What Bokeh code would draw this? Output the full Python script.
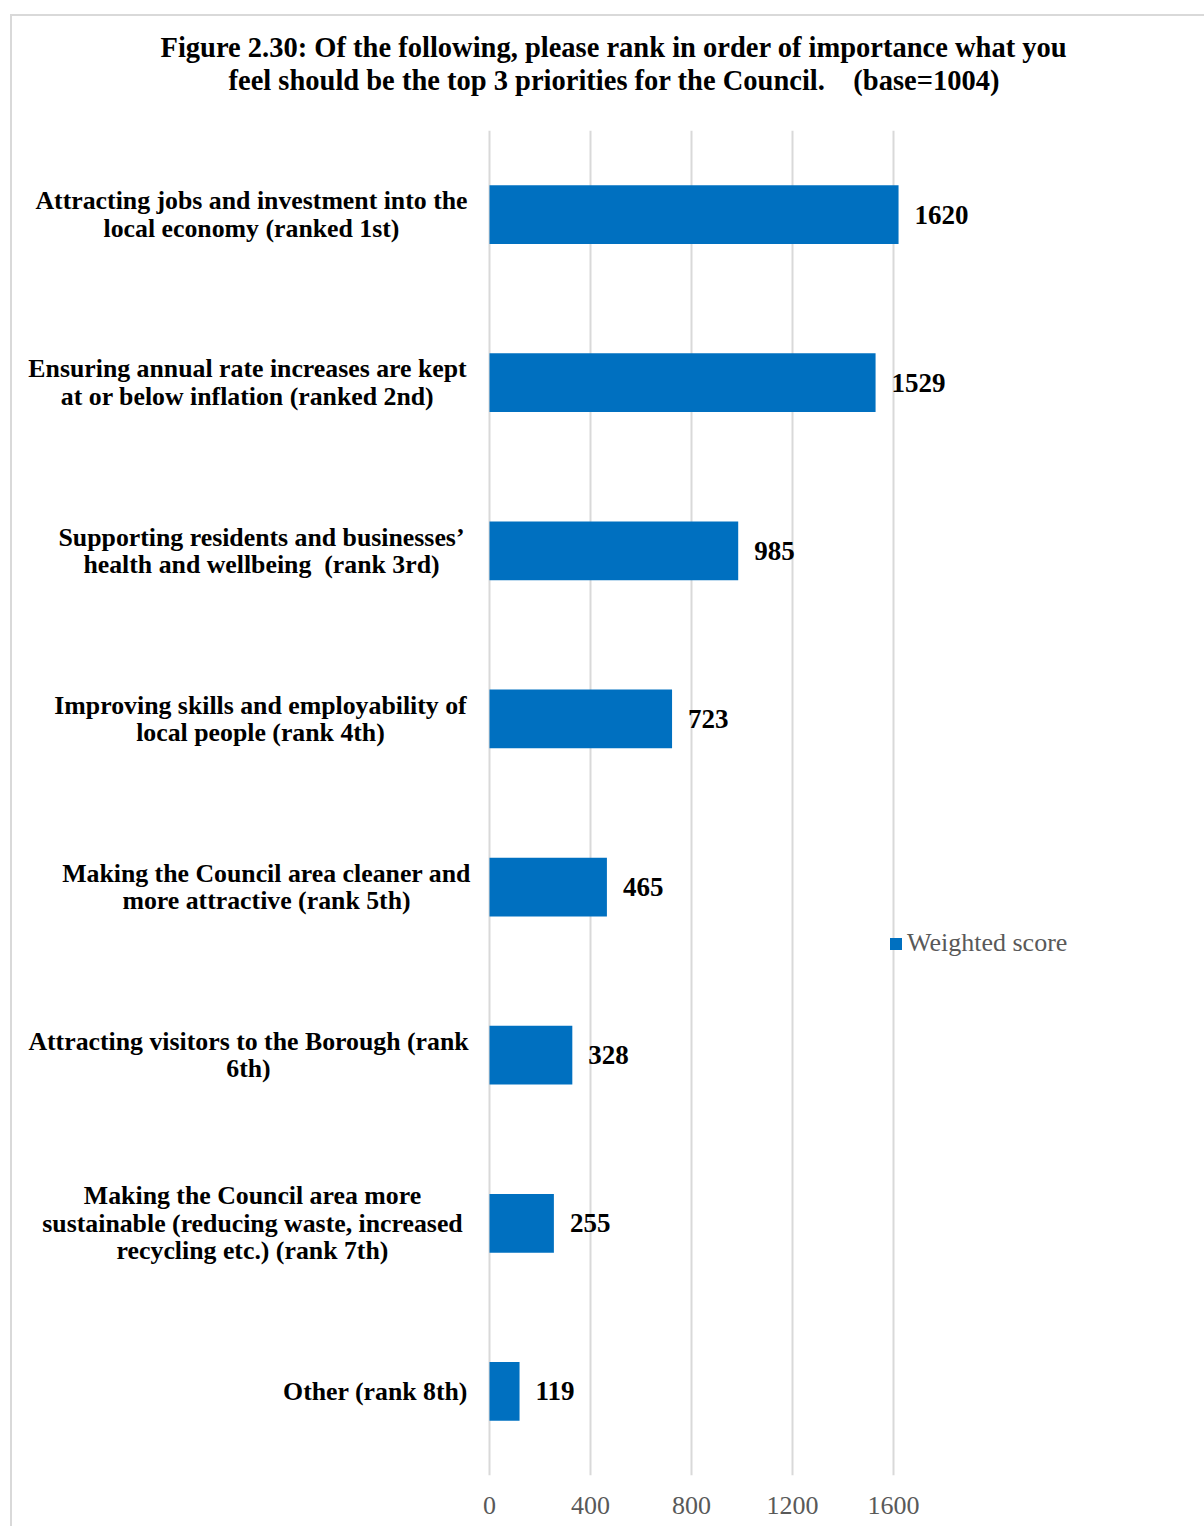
from bokeh.plotting import figure
from bokeh.models import (ColumnDataSource, LabelSet, Legend, LegendItem,
                          FactorRange, Range1d, Title)
from bokeh.embed import file_html
from bokeh.resources import INLINE

# ---- data ----
categories = [
    "Attracting jobs and investment into the\nlocal economy (ranked 1st)",
    "Ensuring annual rate increases are kept\nat or below inflation (ranked 2nd)",
    "Supporting residents and businesses\u2019\nhealth and wellbeing \u00a0(rank 3rd)",
    "Improving skills and employability of\nlocal people (rank 4th)",
    "Making the Council area cleaner and\nmore attractive (rank 5th)",
    "Attracting visitors to the Borough (rank\n6th)",
    "Making the Council area more\nsustainable (reducing waste, increased\nrecycling etc.) (rank 7th)",
    "Other (rank 8th)",
]
values = [1620, 1529, 985, 723, 465, 328, 255, 119]
x_ticks = [0, 400, 800, 1200, 1600]
series_name = "Weighted score"
title_lines = ["Figure 2.30: Of the following, please rank in order of importance what you",
               "feel should be the top 3 priorities for the Council. \u00a0\u00a0\u00a0(base=1004)"]

# ---- layout constants (pixels) ----
ZERO_PX = 489             # canvas x of value 0
PX_PER_UNIT = 404 / 1600  # pixels per unit of score
FRAME_L, FRAME_R = 12, 1180
label_center_px = [251, 247, 261, 260, 266, 248, 252, 375]  # centre of each label block
title_left_px = [160, 228]  # left edge of each title line

SERIF = "Liberation Serif"
BLUE = "#0070C0"

src = ColumnDataSource(dict(cat=categories, val=values, txt=[str(v) for v in values],
                            loff=[c - ZERO_PX for c in label_center_px]))

x_start = -(ZERO_PX - FRAME_L) / PX_PER_UNIT
x_end = (FRAME_R - ZERO_PX) / PX_PER_UNIT

p = figure(width=1204, height=1526,
           y_range=FactorRange(*reversed(categories)),
           x_range=Range1d(x_start, x_end),
           output_backend="svg", toolbar_location=None,
           min_border_left=FRAME_L, min_border_top=130,
           min_border_right=1204 - FRAME_R, min_border_bottom=51,
           styles={
               "background-color": "white",
               "background-image": "linear-gradient(#d9d9d9,#d9d9d9), linear-gradient(#d9d9d9,#d9d9d9)",
               "background-size": "2px 100%, 100% 2px",
               "background-position": "10px 14px, 10px 14px",
               "background-repeat": "no-repeat",
           })
p.outline_line_color = None
p.background_fill_color = "white"
p.border_fill_color = None

bars = p.hbar(y="cat", left=0, right="val", height=0.35, source=src,
              fill_color=BLUE, line_color=None)

# category labels (left of bars)
p.text(x=0, y="cat", text="cat", x_offset="loff", source=src,
       text_align="center", text_baseline="middle",
       text_font=SERIF, text_font_style="bold", text_font_size="25.8px",
       text_color="black", text_line_height=0.95)

# value labels
p.add_layout(LabelSet(x="val", y="cat", text="txt", source=src,
                      x_offset=16, text_baseline="middle", text_align="left",
                      text_font=SERIF, text_font_style="bold",
                      text_font_size="27px", text_color="black"))

# axes
p.xaxis.ticker = x_ticks
p.xaxis.axis_line_color = None
p.xaxis.major_tick_line_color = None
p.xaxis.minor_tick_line_color = None
p.xaxis.major_label_text_font = SERIF
p.xaxis.major_label_text_font_size = "26px"
p.xaxis.major_label_text_color = "#595959"
p.xaxis.major_label_standoff = 15
p.yaxis.visible = False

p.xgrid.grid_line_color = "#d9d9d9"
p.xgrid.grid_line_width = 2
p.ygrid.grid_line_color = None

# legend
legend = Legend(items=[LegendItem(label=series_name, renderers=[bars])],
                location=(876, 517), glyph_width=15, glyph_height=15,
                label_standoff=4, padding=0, margin=0, spacing=0,
                border_line_color=None, background_fill_alpha=0,
                label_text_font=SERIF, label_text_font_size="26px",
                label_text_color="#595959")
p.add_layout(legend)

# title: spacer panel closest to the plot, then line 2, then line 1
p.add_layout(Title(text="\u00a0", text_font_size="1px", standoff=32), "above")
p.add_layout(Title(text=title_lines[1], align="left", offset=title_left_px[1] - FRAME_L,
                   standoff=0, text_font=SERIF, text_font_style="bold",
                   text_font_size="28.5px", text_color="black",
                   text_line_height=0.94), "above")
p.add_layout(Title(text=title_lines[0], align="left", offset=title_left_px[0] - FRAME_L,
                   standoff=0, text_font=SERIF, text_font_style="bold",
                   text_font_size="28.5px", text_color="black",
                   text_line_height=1.0), "above")

open("out.html", "w").write(file_html(p, INLINE))
